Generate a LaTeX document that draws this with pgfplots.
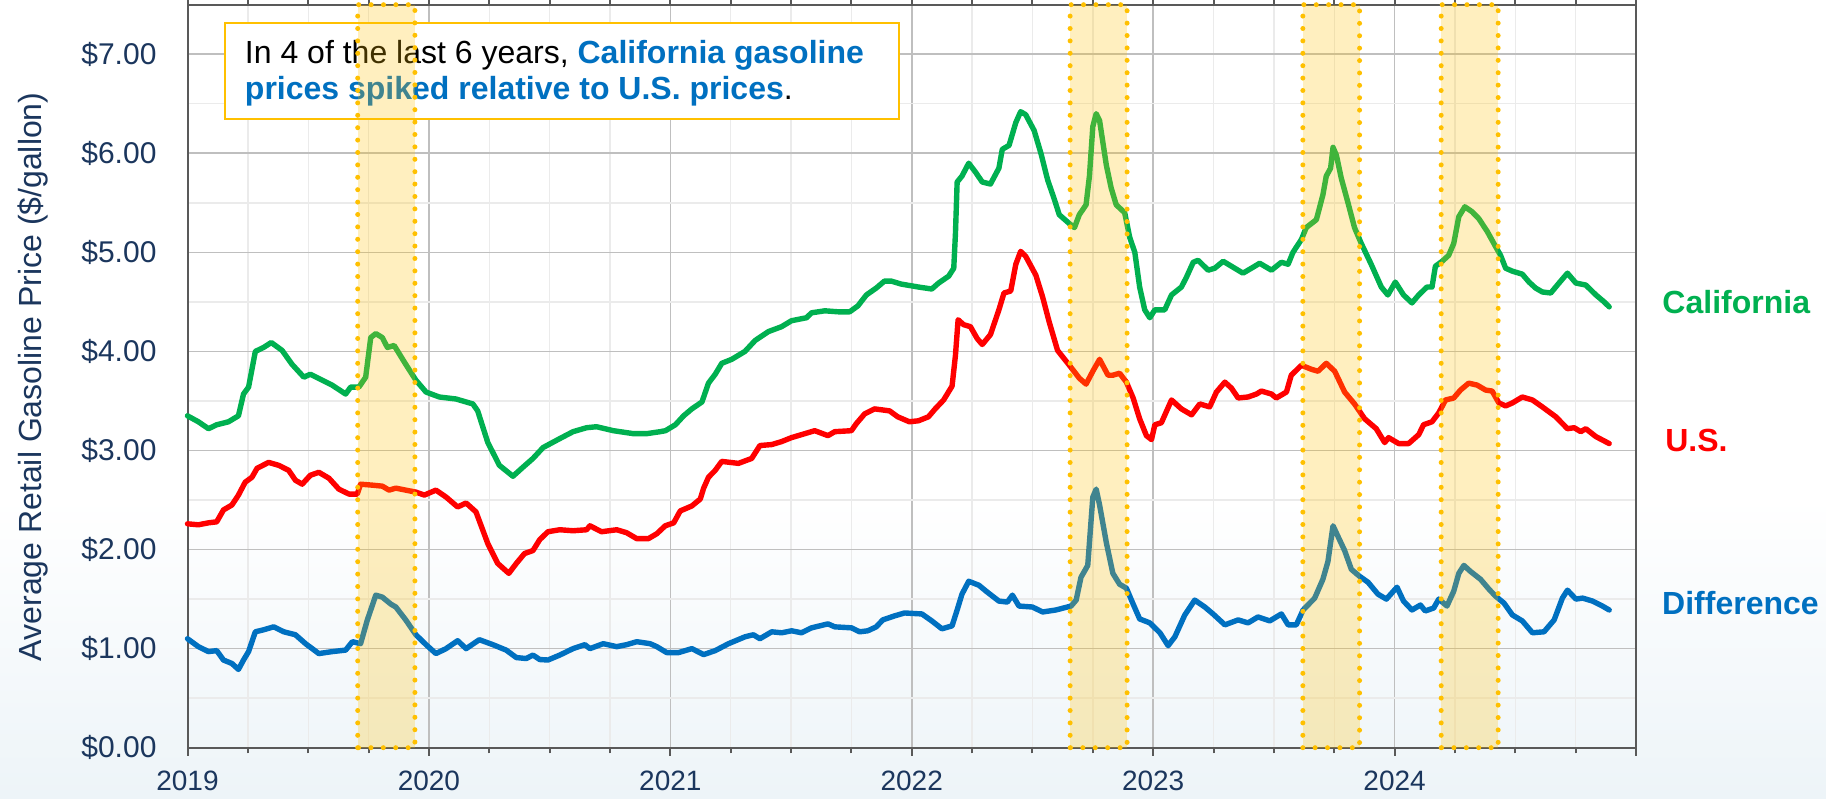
\documentclass[border=0pt]{standalone}
\usepackage{pgfplots}
\pgfplotsset{compat=1.18}
\usepackage{fontspec}
\setmainfont{Liberation Sans}
\definecolor{calg}{HTML}{00B050}
\definecolor{usr}{HTML}{FF0000}
\definecolor{difb}{HTML}{0070C0}
\definecolor{gold}{HTML}{FFC000}
\definecolor{navy}{HTML}{1B365D}
\definecolor{framec}{HTML}{595959}
\definecolor{gmaj}{HTML}{BFBFBF}
\definecolor{gmin}{HTML}{EBEBEB}
\definecolor{bgb}{HTML}{EDF4F8}
\tikzset{bandfill/.style={gold, fill opacity=0.25},
  banddots/.style={gold, line width=2.5pt, line cap=round, dash pattern=on 0pt off 6.2pt}}
\begin{document}
\begin{tikzpicture}
\useasboundingbox (0,0) rectangle (913pt,399pt);
\shade[bottom color=bgb, top color=white] (0,0) rectangle (913pt,150pt);
\node[rotate=90, anchor=base, inner sep=0pt, text=navy, font=\fontsize{16}{16}\selectfont] at (20.65pt,210.6pt) {Average Retail Gasoline Price (\$/gallon)};
\begin{axis}[
  at={(93.75pt,25.15pt)}, anchor=south west,
  scale only axis, width=724.25pt, height=371.5pt,
  xmin=2019, xmax=2025, ymin=0, ymax=7.5,
  clip=false,
  xtick={2019,2020,2021,2022,2023,2024,2025},
  xticklabels={2019,2020,2021,2022,2023,2024,{}},
  ytick={0,1,2,3,4,5,6,7},
  minor x tick num=3, minor y tick num=1,
  grid=both,
  major grid style={draw=gmaj, line width=0.8pt},
  minor grid style={draw=gmin, line width=0.7pt},
  axis line style={draw=framec, line width=1pt},
  tick align=outside, major tick length=4pt,
  xtick style={draw=framec, line width=1pt},
  ytick style={draw=none},
  minor tick style={draw=none},
  /pgf/number format/assume math mode=true,
  yticklabel={\$\pgfmathprintnumber[fixed,fixed zerofill,precision=2]{\tick}},
  y tick label style={font=\fontsize{15}{15}\selectfont, text=navy, xshift=-8pt},
  x tick label style={font=\fontsize{14}{14}\selectfont, text=navy, yshift=-4pt},
  every axis plot/.append style={line width=2.7pt, line join=round, line cap=round, mark=none},
]
\addplot[calg] coordinates {
(2019.000,3.35)(2019.045,3.29)(2019.087,3.22)(2019.121,3.26)(2019.170,3.29)(2019.211,3.35)(2019.232,3.57)(2019.253,3.64)(2019.281,4.00)(2019.315,4.04)(2019.347,4.09)(2019.392,4.01)(2019.433,3.87)(2019.482,3.74)(2019.509,3.77)(2019.558,3.71)(2019.599,3.66)(2019.655,3.57)(2019.676,3.64)(2019.710,3.64)(2019.738,3.74)(2019.759,4.14)(2019.780,4.18)(2019.807,4.14)(2019.828,4.04)(2019.856,4.06)(2019.904,3.87)(2019.946,3.71)(2019.988,3.59)
(2020.043,3.54)(2020.112,3.52)(2020.182,3.47)(2020.202,3.40)(2020.244,3.08)(2020.292,2.85)(2020.348,2.74)(2020.389,2.83)(2020.431,2.92)(2020.473,3.03)(2020.542,3.12)(2020.597,3.19)(2020.653,3.23)(2020.694,3.24)(2020.764,3.20)(2020.847,3.17)(2020.902,3.17)(2020.958,3.19)(2020.980,3.20)
(2021.021,3.26)(2021.055,3.35)(2021.089,3.42)(2021.131,3.49)(2021.158,3.68)(2021.186,3.77)(2021.213,3.88)(2021.254,3.92)(2021.309,4.00)(2021.351,4.11)(2021.406,4.20)(2021.461,4.25)(2021.502,4.31)(2021.564,4.34)(2021.585,4.39)(2021.640,4.41)(2021.695,4.40)(2021.743,4.40)(2021.777,4.46)(2021.812,4.57)(2021.853,4.64)(2021.887,4.71)(2021.915,4.71)(2021.956,4.68)
(2022.028,4.65)(2022.083,4.63)(2022.111,4.69)(2022.153,4.76)(2022.174,4.84)(2022.181,5.19)(2022.188,5.71)(2022.208,5.77)(2022.236,5.90)(2022.264,5.81)(2022.292,5.71)(2022.326,5.69)(2022.361,5.85)(2022.375,6.04)(2022.403,6.08)(2022.431,6.31)(2022.451,6.42)(2022.472,6.39)(2022.507,6.23)(2022.535,6.00)(2022.563,5.73)(2022.590,5.54)(2022.611,5.38)(2022.653,5.29)(2022.674,5.25)(2022.694,5.38)(2022.722,5.48)(2022.736,5.77)(2022.750,6.27)(2022.764,6.40)(2022.778,6.33)(2022.806,5.88)(2022.826,5.65)(2022.847,5.48)(2022.882,5.40)(2022.903,5.15)(2022.924,5.00)(2022.944,4.65)(2022.965,4.42)(2022.986,4.34)
(2023.007,4.42)(2023.048,4.42)(2023.076,4.57)(2023.117,4.65)(2023.138,4.75)(2023.166,4.90)(2023.186,4.92)(2023.228,4.82)(2023.255,4.84)(2023.290,4.91)(2023.324,4.86)(2023.372,4.79)(2023.407,4.84)(2023.441,4.89)(2023.490,4.82)(2023.531,4.90)(2023.559,4.88)(2023.579,5.00)(2023.614,5.13)(2023.634,5.25)(2023.676,5.33)(2023.703,5.58)(2023.717,5.77)(2023.735,5.85)(2023.745,6.06)(2023.759,5.98)(2023.779,5.75)(2023.807,5.50)(2023.834,5.25)(2023.862,5.09)(2023.903,4.88)(2023.945,4.65)(2023.972,4.57)
(2024.003,4.70)(2024.037,4.57)(2024.072,4.49)(2024.100,4.57)(2024.134,4.65)(2024.155,4.65)(2024.169,4.86)(2024.197,4.91)(2024.224,4.97)(2024.245,5.09)(2024.266,5.36)(2024.291,5.46)(2024.321,5.41)(2024.349,5.34)(2024.384,5.21)(2024.418,5.06)(2024.439,4.97)(2024.460,4.84)(2024.488,4.81)(2024.529,4.78)(2024.557,4.70)(2024.584,4.64)(2024.612,4.60)(2024.647,4.59)(2024.681,4.69)(2024.716,4.79)(2024.751,4.69)(2024.792,4.67)(2024.834,4.57)(2024.868,4.50)(2024.889,4.45)
};
\addplot[usr] coordinates {
(2019.000,2.26)(2019.045,2.25)(2019.087,2.27)(2019.121,2.28)(2019.149,2.40)(2019.184,2.45)(2019.211,2.55)(2019.239,2.68)(2019.267,2.73)(2019.288,2.82)(2019.336,2.88)(2019.378,2.85)(2019.419,2.80)(2019.447,2.70)(2019.475,2.66)(2019.509,2.75)(2019.544,2.78)(2019.586,2.72)(2019.627,2.61)(2019.669,2.56)(2019.703,2.56)(2019.717,2.66)(2019.766,2.65)(2019.807,2.64)(2019.835,2.60)(2019.863,2.62)(2019.904,2.60)(2019.946,2.58)(2019.981,2.55)
(2020.029,2.60)(2020.071,2.53)(2020.119,2.43)(2020.154,2.47)(2020.195,2.38)(2020.244,2.06)(2020.285,1.86)(2020.331,1.76)(2020.362,1.86)(2020.396,1.96)(2020.431,1.99)(2020.459,2.10)(2020.493,2.18)(2020.542,2.20)(2020.597,2.19)(2020.653,2.20)(2020.667,2.24)(2020.715,2.18)(2020.778,2.20)(2020.819,2.17)(2020.861,2.11)(2020.909,2.11)(2020.944,2.16)(2020.979,2.24)
(2021.014,2.27)(2021.041,2.39)(2021.089,2.44)(2021.124,2.51)(2021.138,2.62)(2021.158,2.73)(2021.186,2.80)(2021.213,2.89)(2021.282,2.87)(2021.337,2.92)(2021.371,3.05)(2021.420,3.06)(2021.461,3.09)(2021.502,3.13)(2021.557,3.17)(2021.598,3.20)(2021.653,3.15)(2021.681,3.19)(2021.750,3.20)(2021.770,3.27)(2021.805,3.37)(2021.846,3.42)(2021.908,3.40)(2021.942,3.34)(2021.990,3.29)
(2022.028,3.30)(2022.069,3.34)(2022.097,3.42)(2022.132,3.51)(2022.167,3.65)(2022.181,3.96)(2022.192,4.32)(2022.215,4.27)(2022.243,4.25)(2022.271,4.13)(2022.292,4.07)(2022.326,4.17)(2022.361,4.42)(2022.382,4.59)(2022.410,4.61)(2022.431,4.88)(2022.451,5.01)(2022.472,4.96)(2022.514,4.77)(2022.542,4.55)(2022.569,4.30)(2022.604,4.01)(2022.653,3.86)(2022.694,3.73)(2022.722,3.67)(2022.750,3.80)(2022.778,3.92)(2022.813,3.76)(2022.833,3.76)(2022.861,3.78)(2022.889,3.69)(2022.917,3.53)(2022.944,3.32)(2022.972,3.15)(2022.993,3.11)
(2023.007,3.26)(2023.034,3.28)(2023.076,3.51)(2023.117,3.42)(2023.159,3.36)(2023.193,3.47)(2023.234,3.44)(2023.262,3.59)(2023.297,3.69)(2023.324,3.63)(2023.352,3.53)(2023.393,3.54)(2023.428,3.57)(2023.448,3.60)(2023.490,3.57)(2023.510,3.53)(2023.552,3.59)(2023.572,3.76)(2023.614,3.86)(2023.655,3.82)(2023.683,3.80)(2023.717,3.88)(2023.752,3.80)(2023.793,3.59)(2023.834,3.47)(2023.876,3.32)(2023.924,3.22)(2023.959,3.08)
(2023.975,3.13)(2024.017,3.07)(2024.058,3.07)(2024.100,3.16)(2024.120,3.26)(2024.155,3.29)(2024.183,3.38)(2024.211,3.51)(2024.245,3.53)(2024.273,3.61)(2024.307,3.68)(2024.342,3.66)(2024.377,3.61)(2024.404,3.60)(2024.432,3.48)(2024.460,3.45)(2024.488,3.48)(2024.529,3.54)(2024.571,3.51)(2024.612,3.44)(2024.668,3.34)(2024.716,3.22)(2024.744,3.23)(2024.771,3.19)(2024.792,3.22)(2024.834,3.14)(2024.889,3.07)
};
\addplot[difb] coordinates {
(2019.000,1.10)(2019.045,1.02)(2019.087,0.97)(2019.121,0.98)(2019.149,0.885)(2019.184,0.85)(2019.211,0.79)(2019.232,0.885)(2019.253,0.97)(2019.281,1.17)(2019.315,1.19)(2019.357,1.22)(2019.399,1.17)(2019.447,1.14)(2019.489,1.05)(2019.544,0.95)(2019.599,0.97)(2019.655,0.985)(2019.683,1.07)(2019.717,1.05)(2019.745,1.29)(2019.780,1.54)(2019.807,1.52)(2019.842,1.45)(2019.863,1.42)(2019.904,1.29)(2019.946,1.14)(2019.988,1.04)
(2020.029,0.95)(2020.071,1.00)(2020.119,1.08)(2020.154,1.00)(2020.209,1.09)(2020.265,1.04)(2020.320,0.985)(2020.362,0.91)(2020.403,0.90)(2020.431,0.935)(2020.459,0.89)(2020.493,0.885)(2020.542,0.935)(2020.597,1.00)(2020.646,1.04)(2020.667,1.00)(2020.722,1.05)(2020.778,1.02)(2020.819,1.04)(2020.861,1.07)(2020.916,1.05)(2020.944,1.02)(2020.985,0.96)
(2021.034,0.96)(2021.089,1.00)(2021.138,0.94)(2021.186,0.98)(2021.241,1.05)(2021.310,1.12)(2021.344,1.14)(2021.371,1.10)(2021.420,1.17)(2021.461,1.16)(2021.502,1.18)(2021.543,1.16)(2021.585,1.21)(2021.653,1.25)(2021.681,1.22)(2021.750,1.21)(2021.784,1.17)(2021.818,1.18)(2021.853,1.22)(2021.880,1.29)(2021.928,1.33)(2021.970,1.36)
(2022.042,1.35)(2022.083,1.28)(2022.125,1.20)(2022.167,1.23)(2022.188,1.39)(2022.208,1.55)(2022.236,1.68)(2022.278,1.64)(2022.313,1.57)(2022.361,1.48)(2022.396,1.47)(2022.417,1.54)(2022.444,1.43)(2022.500,1.42)(2022.542,1.37)(2022.597,1.39)(2022.660,1.43)(2022.681,1.49)(2022.701,1.72)(2022.729,1.84)(2022.750,2.53)(2022.764,2.61)(2022.778,2.45)(2022.806,2.07)(2022.833,1.76)(2022.861,1.65)(2022.889,1.61)(2022.917,1.45)(2022.944,1.30)(2022.986,1.26)
(2023.028,1.16)(2023.062,1.03)(2023.090,1.12)(2023.131,1.34)(2023.172,1.49)(2023.214,1.42)(2023.248,1.35)(2023.297,1.24)(2023.352,1.29)(2023.393,1.26)(2023.434,1.32)(2023.483,1.28)(2023.531,1.35)(2023.559,1.24)(2023.593,1.24)(2023.621,1.39)(2023.669,1.51)(2023.703,1.70)(2023.724,1.88)(2023.735,2.07)(2023.745,2.24)(2023.766,2.13)(2023.793,1.99)(2023.821,1.80)(2023.855,1.73)(2023.890,1.67)(2023.931,1.55)(2023.966,1.50)
(2024.010,1.62)(2024.037,1.48)(2024.072,1.39)(2024.107,1.44)(2024.127,1.38)(2024.162,1.41)(2024.183,1.50)(2024.217,1.43)(2024.245,1.58)(2024.266,1.76)(2024.287,1.84)(2024.314,1.78)(2024.356,1.70)(2024.391,1.60)(2024.418,1.53)(2024.453,1.46)(2024.488,1.34)(2024.529,1.28)(2024.571,1.16)(2024.619,1.17)(2024.661,1.29)(2024.695,1.51)(2024.716,1.59)(2024.751,1.50)(2024.779,1.51)(2024.820,1.48)(2024.861,1.43)(2024.889,1.39)
};
% annotation box
\draw[draw=gold, line width=1.1pt, fill=white] (axis cs:2019.154,6.346) rectangle (axis cs:2021.946,7.318);
\node[anchor=base west, inner sep=0pt, font=\fontsize{16}{16}\selectfont] at (axis cs:2019.2365,6.908) {In 4 of the last 6 years, \textcolor{difb}{\bfseries California gasoline}};
\node[anchor=base west, inner sep=0pt, font=\fontsize{16}{16}\selectfont] at (axis cs:2019.2365,6.538) {\textcolor{difb}{\bfseries prices spiked relative to U.S. prices}.};
% shaded bands
\fill[bandfill] (axis cs:2019.705,0) rectangle (axis cs:2019.942,7.5);
\draw[banddots] (axis cs:2019.705,0) rectangle (axis cs:2019.942,7.5);
\fill[bandfill] (axis cs:2022.656,0) rectangle (axis cs:2022.892,7.5);
\draw[banddots] (axis cs:2022.656,0) rectangle (axis cs:2022.892,7.5);
\fill[bandfill] (axis cs:2023.620,0) rectangle (axis cs:2023.855,7.5);
\draw[banddots] (axis cs:2023.620,0) rectangle (axis cs:2023.855,7.5);
\fill[bandfill] (axis cs:2024.193,0) rectangle (axis cs:2024.429,7.5);
\draw[banddots] (axis cs:2024.193,0) rectangle (axis cs:2024.429,7.5);
% series labels
\node[anchor=base west, inner sep=0pt, text=calg, font=\fontsize{16}{16}\selectfont\bfseries] at (axis cs:2025.108,4.378) {California};
\node[anchor=base west, inner sep=0pt, text=usr, font=\fontsize{16}{16}\selectfont\bfseries] at (axis cs:2025.12,2.988) {U.S.};
\node[anchor=base west, inner sep=0pt, text=difb, font=\fontsize{16}{16}\selectfont\bfseries] at (axis cs:2025.107,1.347) {Difference};
\end{axis}
\end{tikzpicture}
\end{document}
